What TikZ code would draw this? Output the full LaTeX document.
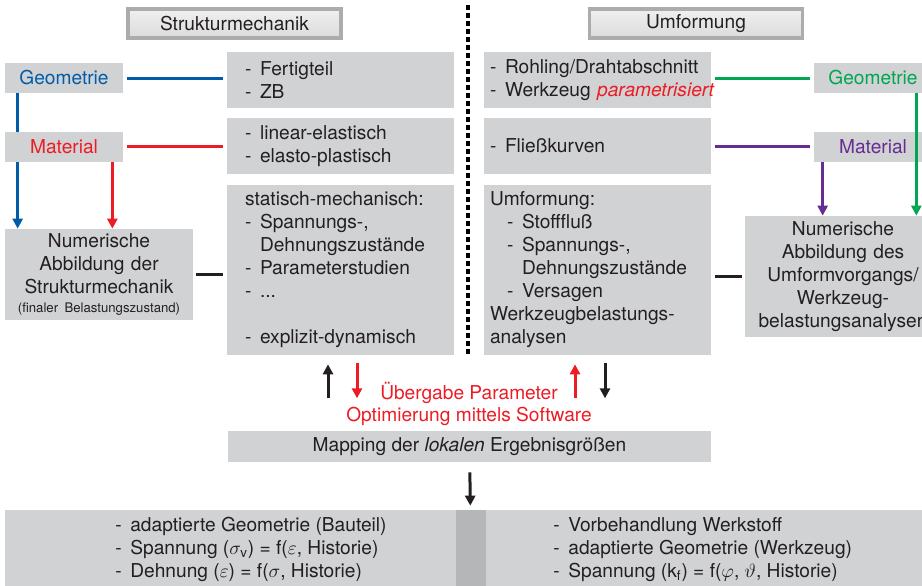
\documentclass[tikz,border=0pt]{standalone}
\usepackage{fontspec}
\setmainfont{TeX Gyre Heros}
\usetikzlibrary{arrows.meta,calc}

\definecolor{boxgray}{RGB}{209,210,212}
\definecolor{stripgray}{RGB}{181,182,184}
\definecolor{txt}{RGB}{35,31,32}
\definecolor{blu}{RGB}{0,92,169}
\definecolor{rd}{RGB}{237,28,36}
\definecolor{grn}{RGB}{0,166,81}
\definecolor{prp}{RGB}{102,45,145}

\newcommand{\li}{\makebox[0.3cm][l]{-}}
\newcommand{\ind}{\makebox[0.3cm]{}}

\tikzstyle{box}=[fill=boxgray, text=txt, inner sep=0pt, font=\fontsize{10.9}{13.1}\selectfont]
\tikzstyle{btn}=[box, top color=black!6, bottom color=black!14, draw=gray!65, line width=2pt, minimum width=4.26cm, minimum height=0.58cm]
\tikzstyle{lcol}=[box, inner xsep=0.36cm, text width=3.82cm, align=left, minimum height=1.12cm]
\tikzstyle{rcol}=[box, inner xsep=0.12cm, text width=4.3cm, align=left, minimum height=1.12cm]
\tikzstyle{tag}=[box, minimum width=2.36cm, minimum height=0.6cm]
\tikzstyle{con}=[line width=0.06cm, shorten <=0.08cm, shorten >=0.08cm]
\tikzstyle{arr}=[line width=0.06cm, -{Triangle[length=0.2cm, width=0.2cm]}]

\begin{document}
\begin{tikzpicture}[x=0.02cm, y=-0.02cm]
  \clip (0,0) rectangle (922,585);

  % headings and divider
  \node[btn] (stmB) at (234.5,23.5) {Strukturmechanik};
  \node[btn] (umfB) at (696,23.5)   {Umformung};
  \draw[line width=0.08cm, dash pattern=on 0.1cm off 0.06cm] (468,5) -- (468,355);

  % left side
  \node[tag, text=blu] (geoL) at (64,78) {Geometrie};
  \node[box, text width=3.76cm, align=center, minimum height=1.82cm] (numL) at (99,274.5)
    {Numerische\\Abbildung der\\Strukturmechanik\\[-2.3pt]{\fontsize{7.5}{9}\selectfont(finaler Belastungszustand)}};
  \coordinate (bT) at ($(geoL.south west)+(13,0)$);
  \draw[arr, blu] (bT) -- (bT |- numL.north);
  \node[tag, text=rd] (matL) at (64,146.5) {Material};
  \coordinate (rT) at ($(matL.south east)-(11,0)$);
  \draw[arr, rd] (rT) -- (rT |- numL.north);

  \node[lcol] (fert) at (340.5,80)  {\li Fertigteil\\\li ZB};
  \node[lcol] (lin)  at (340.5,146) {\li linear-elastisch\\\li elasto-plastisch};
  \node[lcol, minimum height=3.4cm] (stat) at (340.5,270)
    {statisch-mechanisch:\\\li Spannungs-,\\\ind Dehnungszustände\\\li Parameterstudien\\\li ...\\\mbox{}\\\li explizit-dynamisch};

  \draw[con, blu] (geoL.east) -- (geoL.east -| fert.west);
  \draw[con, rd]  (matL.east) -- (matL.east -| lin.west);
  \draw[con, txt, shorten <=0.06cm] (numL.east) -- (numL.east -| stat.west);

  % right side
  \node[rcol] (rohl)   at (597.5,80)  {\li Rohling/Drahtabschnitt\\\mbox{\li Werkzeug \textcolor{rd}{\textit{parametrisiert}}}};
  \node[rcol] (fliess) at (597.5,146) {\li Fließkurven};
  \node[rcol, minimum height=3.4cm] (umf) at (597.5,270)
    {Umformung:\\\makebox[0.34cm]{}\li Stofffluß\\\makebox[0.34cm]{}\li Spannungs-,\\\makebox[0.34cm]{}\ind Dehnungszustände\\\makebox[0.34cm]{}\li Versagen\\Werkzeugbelastungs-\\analysen};

  \node[tag, text=grn] (geoR) at (873,78)    {Geometrie};
  \node[tag, text=prp] (matR) at (873,146.5) {Material};
  \node[box, text width=3.92cm, align=center, minimum height=2.42cm] (numR) at (843,276.5)
    {Numerische\\Abbildung des\\Umformvorgangs/\\Werkzeug-\\belastungsanalysen};

  \draw[con, grn] (geoR.west) -- (geoR.west -| rohl.east);
  \draw[con, prp] (matR.west) -- (matR.west -| fliess.east);
  \coordinate (gT) at ($(geoR.south east)-(16,0)$);
  \coordinate (pT) at ($(matR.south west)+(9,0)$);
  \draw[arr, grn] (gT) -- (gT |- numR.north);
  \draw[arr, prp] (pT) -- (pT |- numR.north);
  \draw[con, txt, shorten >=0.06cm] (numR.west -| umf.east) -- (numR.west);

  % exchange
  \node[text=rd, font=\fontsize{10.9}{13.1}\selectfont] (uebg) at (469,393) {Übergabe Parameter};
  \node[text=rd, font=\fontsize{10.9}{13.1}\selectfont] (opt)  at (469,416) {Optimierung mittels Software};
  \node[box, minimum width=9.66cm, minimum height=0.62cm] (mapB) at (469.5,446.5)
    {Mapping der \textit{lokalen} Ergebnisgrößen};

  \draw[arr, txt] ([xshift=-0.25cm, yshift=-0.86cm]stat.south) -- ([xshift=-0.25cm, yshift=-0.18cm]stat.south);
  \draw[arr, rd]  ([xshift=0.33cm, yshift=-0.16cm]stat.south)  -- ([xshift=0.33cm, yshift=-0.86cm]stat.south);
  \draw[arr, rd]  ([xshift=-0.45cm, yshift=-0.86cm]umf.south)  -- ([xshift=-0.45cm, yshift=-0.18cm]umf.south);
  \draw[arr, txt] ([xshift=0.15cm, yshift=-0.16cm]umf.south)   -- ([xshift=0.15cm, yshift=-0.86cm]umf.south);

  % results
  \node[box, minimum width=9.02cm, minimum height=1.8cm] (botL)  at (230.5,555) {};
  \node[box, fill=stripgray, minimum width=0.6cm, minimum height=1.8cm] (strip) at (471,555) {};
  \node[box, minimum width=9.08cm, minimum height=1.8cm] (botR)  at (713,555) {};
  \node[box, fill=none, align=left, anchor=west] (botTxtL) at (115,549.5)
    {\li adaptierte Geometrie (Bauteil)\\\li Spannung ($\sigma_{\mathrm{v}}$) = f($\varepsilon$, Historie)\\\li Dehnung ($\varepsilon$) = f($\sigma$, Historie)};
  \node[box, fill=none, align=left, anchor=west] (botTxtR) at (553,549.5)
    {\li Vorbehandlung Werkstoff\\\li adaptierte Geometrie (Werkzeug)\\\li Spannung (k\textsubscript{f}) = f($\varphi$, $\vartheta$, Historie)};

  \draw[arr, txt, shorten <=0.2cm, shorten >=0.08cm] (mapB) -- (strip);
\end{tikzpicture}
\end{document}
